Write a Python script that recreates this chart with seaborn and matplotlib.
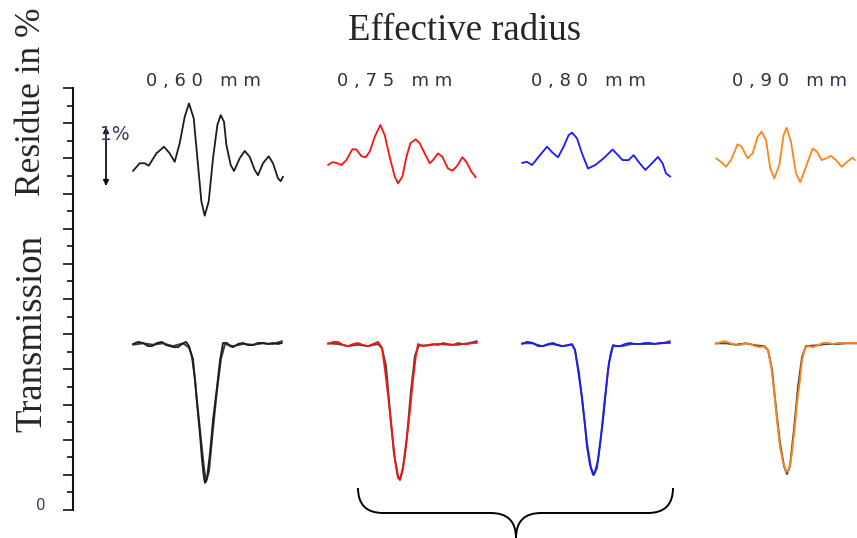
import numpy as np
import pandas as pd
import matplotlib
matplotlib.use("Agg")
import matplotlib.pyplot as plt
from matplotlib.path import Path
from matplotlib.patches import PathPatch
from matplotlib.ticker import MultipleLocator
import seaborn as sns

# ---------------- data ----------------
radius_labels = ["0 , 6 0   m m", "0 , 7 5   m m", "0 , 8 0   m m", "0 , 9 0   m m"]
colors = ["#1c1c1c", "#ff1010", "#1a1aff", "#ff8418"]
fit_color = "#4a4a4a"

# residue curves (local wavelength offset, value in axis units)
res_x_060 = [0, 6.7, 11.7, 15.7, 23.4, 31, 36.7, 41.7, 46.7, 51.7, 56, 60.7, 64.4, 68.4, 71.7, 75.7, 80,
             84.4, 87.7, 91, 93.4, 97.7, 101, 106.7, 111.7, 116.7, 121.7, 125, 130, 135.7, 140, 145, 147.7, 150]
res_y_060 = [9.64, 9.86, 9.86, 9.79, 10.14, 10.33, 10.14, 9.90, 10.43, 11.18, 11.56, 11.14, 10.00, 8.77,
             8.37, 8.77, 10.00, 10.95, 11.23, 11.04, 10.38, 9.81, 9.64, 10.00, 10.21, 10.04, 9.67, 9.52,
             9.86, 10.06, 9.86, 9.43, 9.35, 9.48]
res_x_075 = [0, 4.4, 8.4, 13.4, 18.4, 24.4, 28.4, 33.4, 37.7, 41.7, 46.7, 52.4, 56.7, 61.7, 66.7, 70, 74.4,
             78.4, 82.4, 87.7, 91.7, 96.7, 101.7, 105, 110, 114.4, 120, 124.4, 129, 134.4, 138.4, 143.4, 147.7]
res_y_075 = [9.81, 9.89, 9.87, 9.81, 9.95, 10.26, 10.25, 10.06, 10.03, 10.19, 10.61, 10.95, 10.66, 10.04,
             9.48, 9.29, 9.48, 10.04, 10.43, 10.54, 10.43, 10.14, 9.86, 9.95, 10.14, 10.04, 9.71, 9.65,
             9.78, 10.03, 9.90, 9.62, 9.46]
res_x_080 = [0, 5, 10, 16.6, 25, 30.6, 36, 41.6, 46.6, 50, 55, 60, 66, 73.3, 81.6, 90.6, 96, 100.6, 106.6,
             111.6, 116.6, 123.3, 128.3, 136, 140.6, 144, 148.3]
res_y_080 = [9.87, 9.90, 9.81, 10.04, 10.33, 10.16, 10.03, 10.33, 10.66, 10.73, 10.57, 10.14, 9.71, 9.81,
             10.00, 10.25, 10.09, 9.95, 9.95, 10.09, 9.90, 9.67, 9.81, 10.04, 9.86, 9.57, 9.48]
res_x_090 = [0, 5, 10, 15, 21.6, 25.6, 31.6, 36.6, 41.6, 45.6, 50, 54.3, 58.3, 63.3, 67.6, 70.6, 75, 80,
             84.3, 90, 96.6, 101, 105.6, 110, 115, 120, 125.6, 131, 136.6, 139]
res_y_090 = [10.00, 9.90, 9.76, 9.95, 10.40, 10.33, 10.00, 10.14, 10.61, 10.76, 10.52, 9.71, 9.43, 9.81,
             10.66, 10.87, 10.47, 9.57, 9.32, 9.76, 10.28, 10.19, 9.95, 10.00, 10.07, 9.95, 9.76, 9.90,
             10.02, 9.95]

# measured transmission
tr_x_060 = [0, 5, 10, 15, 19, 24, 29, 33, 37, 41, 45, 49, 53, 56, 59, 62, 64, 67, 69, 71, 72, 74, 77, 80,
            84, 87, 90, 94, 97, 100, 105, 110, 115, 120, 125, 130, 135, 140, 145, 149]
tr_y_060 = [4.72, 4.78, 4.75, 4.66, 4.66, 4.75, 4.78, 4.69, 4.66, 4.63, 4.63, 4.72, 4.78, 4.66, 4.35,
            3.70, 3.04, 2.13, 1.42, 0.91, 0.77, 0.91, 1.62, 2.56, 3.50, 4.26, 4.75, 4.75, 4.66, 4.63,
            4.72, 4.75, 4.69, 4.69, 4.75, 4.75, 4.72, 4.75, 4.72, 4.75]
tr_x_075 = [0, 5, 10, 15, 20, 25, 30, 35, 40, 45, 50, 54, 57, 60, 64, 67, 70, 72, 74, 77, 79, 82, 85, 88,
            90, 95, 100, 105, 110, 115, 120, 125, 130, 135, 140, 145, 149]
tr_y_075 = [4.72, 4.78, 4.78, 4.69, 4.66, 4.72, 4.75, 4.69, 4.66, 4.72, 4.78, 4.61, 3.98, 3.27, 2.19,
            1.42, 0.91, 0.85, 1.05, 1.56, 2.08, 2.84, 3.70, 4.41, 4.72, 4.66, 4.69, 4.72, 4.69, 4.75,
            4.72, 4.69, 4.75, 4.72, 4.72, 4.75, 4.75]
tr_x_080 = [0, 5, 11, 16, 21, 26, 31, 36, 41, 46, 50, 53, 56, 60, 63, 65, 68, 71, 73, 76, 78, 81, 84, 86,
            89, 91, 95, 98, 103, 108, 113, 118, 123, 128, 133, 138, 143, 148]
tr_y_080 = [4.72, 4.78, 4.75, 4.66, 4.66, 4.72, 4.75, 4.69, 4.66, 4.69, 4.72, 4.55, 3.98, 3.21, 2.42,
            1.79, 1.28, 1.00, 1.08, 1.42, 1.85, 2.56, 3.41, 3.98, 4.49, 4.69, 4.66, 4.66, 4.72, 4.75,
            4.72, 4.72, 4.75, 4.75, 4.72, 4.75, 4.75, 4.75]
tr_x_090 = [0, 5, 9, 14, 19, 24, 29, 34, 39, 44, 49, 52, 55, 58, 61, 64, 67, 70, 72, 74, 76, 79, 81, 84,
            86, 89, 92, 97, 102, 107, 112, 117, 122, 127, 132, 137, 141]
tr_y_090 = [4.72, 4.78, 4.80, 4.75, 4.69, 4.69, 4.75, 4.72, 4.66, 4.63, 4.66, 4.55, 4.12, 3.41, 2.56,
            1.79, 1.36, 1.11, 1.08, 1.28, 1.62, 2.42, 3.04, 3.70, 4.26, 4.61, 4.66, 4.63, 4.69, 4.75,
            4.75, 4.72, 4.75, 4.75, 4.75, 4.75, 4.75]

# fitted transmission (grey)
fit_x_060 = [0, 10, 20, 30, 40, 50, 56, 60, 64, 68, 71, 73, 76, 80, 84, 88, 92, 100, 110, 120, 130, 140, 149]
fit_y_060 = [4.70, 4.74, 4.70, 4.74, 4.66, 4.74, 4.62, 4.30, 3.10, 2.00, 1.20, 0.80, 1.10, 2.30, 3.40,
             4.30, 4.72, 4.66, 4.72, 4.70, 4.74, 4.72, 4.80]
fit_x_075 = [0, 10, 20, 30, 40, 50, 54, 58, 62, 66, 70, 72, 75, 79, 83, 87, 91, 100, 110, 120, 130, 140, 149]
fit_y_075 = [4.74, 4.72, 4.66, 4.70, 4.66, 4.72, 4.60, 4.10, 2.80, 1.60, 0.95, 0.88, 1.20, 2.10, 3.40,
             4.40, 4.68, 4.68, 4.72, 4.70, 4.70, 4.74, 4.80]
fit_x_080 = [0, 10, 20, 30, 40, 50, 53, 57, 61, 65, 69, 72, 75, 79, 83, 87, 91, 100, 110, 120, 130, 140, 148]
fit_y_080 = [4.74, 4.74, 4.66, 4.72, 4.66, 4.70, 4.55, 3.90, 2.90, 1.90, 1.20, 1.00, 1.20, 2.10, 3.20,
             4.20, 4.66, 4.66, 4.72, 4.72, 4.72, 4.74, 4.80]
fit_x_090 = [0, 10, 20, 30, 40, 48, 52, 56, 60, 64, 68, 71, 74, 78, 82, 86, 90, 100, 110, 120, 130, 141]
fit_y_090 = [4.74, 4.74, 4.70, 4.74, 4.68, 4.66, 4.55, 4.00, 2.90, 1.90, 1.25, 1.02, 1.25, 2.30, 3.50,
             4.35, 4.66, 4.68, 4.72, 4.72, 4.74, 4.74]

res_x = [res_x_060, res_x_075, res_x_080, res_x_090]
res_y = [res_y_060, res_y_075, res_y_080, res_y_090]
tr_x = [tr_x_060, tr_x_075, tr_x_080, tr_x_090]
tr_y = [tr_y_060, tr_y_075, tr_y_080, tr_y_090]
fit_x = [fit_x_060, fit_x_075, fit_x_080, fit_x_090]
fit_y = [fit_y_060, fit_y_075, fit_y_080, fit_y_090]

# ---------------- layout ----------------
W, H = 857, 538
panel_origin = [60, 255, 449, 643]  # horizontal panel offsets in axis units

sns.set_theme(style="white")
plt.rcParams["font.family"] = ["DejaVu Sans"]

fig = plt.figure(figsize=(W / 100, H / 100), dpi=100)
ax = fig.add_axes([73 / W, 28 / H, 784 / W, 422 / H])
ax.set_xlim(0, 784)
ax.set_ylim(0, 12)

line_kw = dict(sort=False, estimator=None, clip_on=False,
               solid_joinstyle="round", solid_capstyle="round")
for i in range(4):
    off = panel_origin[i]
    sns.lineplot(x=np.array(fit_x[i]) + off, y=fit_y[i], ax=ax, color=fit_color if i else "#3a3a3a",
                 lw=1.4, **line_kw)
    sns.lineplot(x=np.array(tr_x[i]) + off, y=tr_y[i], ax=ax, color=colors[i], lw=1.3, **line_kw)
    sns.lineplot(x=np.array(res_x[i]) + off, y=res_y[i], ax=ax, color=colors[i], lw=1.3, **line_kw)

ax.spines[["top", "right", "bottom"]].set_visible(False)
ax.spines["left"].set_linewidth(1.5)
ax.spines["left"].set_color("#111111")
ax.set_xticks([])
ax.yaxis.set_major_locator(MultipleLocator(1))
ax.yaxis.set_minor_locator(MultipleLocator(0.5))
ax.tick_params(axis="y", which="major", length=7.5, width=1.2, color="#111111", left=True, labelleft=False)
ax.tick_params(axis="y", which="minor", length=4, width=1.2, color="#111111", left=True)
ax.set_xlabel("")
ax.set_ylabel("")

# overlay in pixel coordinates for annotations
ov = fig.add_axes([0, 0, 1, 1], facecolor="none")
ov.set_xlim(0, W)
ov.set_ylim(H, 0)
ov.axis("off")

serif = "Liberation Serif"
ov.text(465, 31, "Effective radius", fontsize=26.5, family=serif, ha="center", va="center")
ov.text(32, 102, "Residue in %", fontsize=25.5, family=serif, rotation=90, ha="center", va="center")
ov.text(32, 333, "Transmission", fontsize=26.5, family=serif, rotation=90, ha="center", va="center")
label_x = [203, 395, 588, 790]
for lx, lab in zip(label_x, radius_labels):
    ov.text(lx, 81, lab, fontsize=13, family="DejaVu Sans", color="#2f2f48",
            ha="center", va="center")
ov.text(41, 505, "0", fontsize=11, family="DejaVu Sans", color="#3a3a60", ha="center", va="center")

# 1 % scale arrow
ov.annotate("", xy=(106, 127), xytext=(106, 186),
            arrowprops=dict(arrowstyle="<|-|>", color="black", lw=1.2, mutation_scale=8,
                            shrinkA=0, shrinkB=0))
ov.text(100, 135, "1%", fontsize=13.5, family="DejaVu Sans", color="#3a3a60", ha="left", va="center")

# curly brace under the last three panels
verts = [(358, 488), (358, 513), (383, 513), (491, 513), (516, 513), (516, 538),
         (516, 513), (541, 513), (648, 513), (673, 513), (673, 488)]
codes = [Path.MOVETO, Path.CURVE3, Path.CURVE3, Path.LINETO, Path.CURVE3, Path.CURVE3,
         Path.CURVE3, Path.CURVE3, Path.LINETO, Path.CURVE3, Path.CURVE3]
ov.add_patch(PathPatch(Path(verts, codes), fill=False, lw=1.4, color="black"))

fig.savefig("out.png", dpi=100)
